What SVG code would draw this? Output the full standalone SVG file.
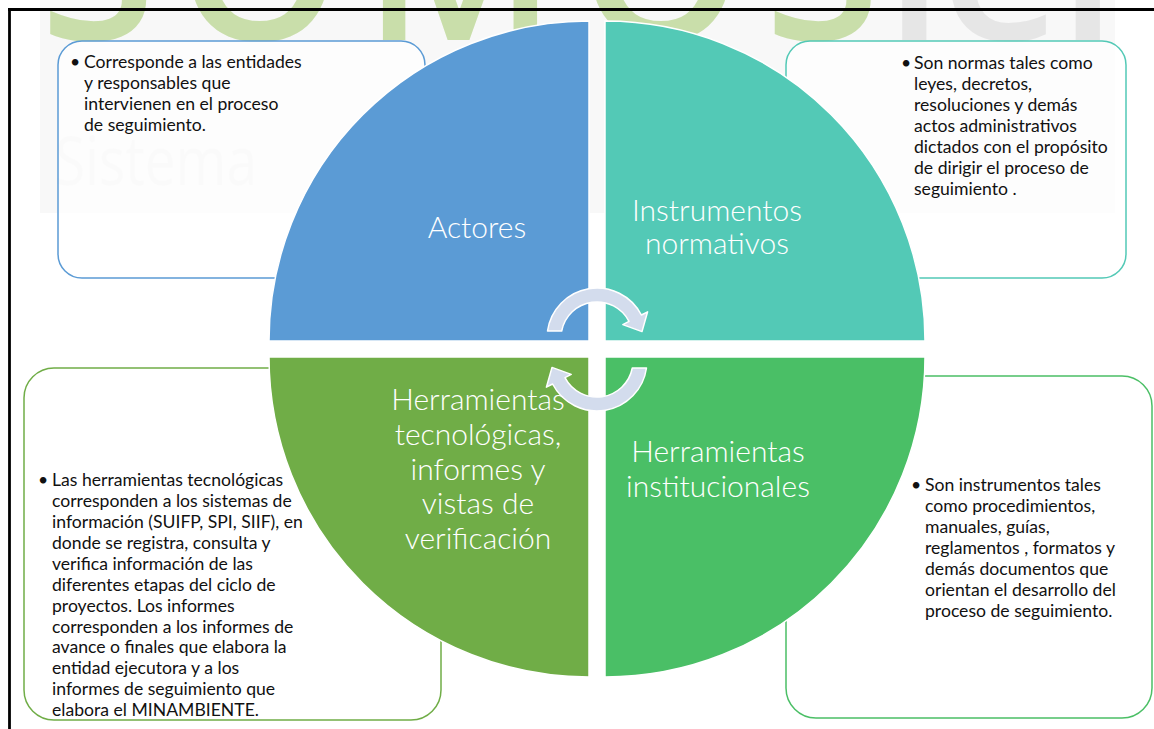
<svg xmlns="http://www.w3.org/2000/svg" width="1154" height="729" viewBox="0 0 1154 729">
  <style>
    .box { fill: #ffffff; fill-opacity: 0.65; stroke-width: 1.5; }
    .btxt { font-family: Lato, "Liberation Sans", sans-serif; font-size: 17.6px; fill: #111111; }
    .lbl { font-family: Lato, "Liberation Sans", sans-serif; font-weight: 300; font-size: 30px; fill: #ffffff; text-anchor: middle; }
    .quad { stroke: #ffffff; stroke-width: 1.5; }
    .arrow { fill: #D3DCED; stroke: #ffffff; stroke-width: 1.5; stroke-linejoin: round; }
  </style>
  <rect x="0" y="0" width="1154" height="729" fill="#ffffff"/>
  <g id="watermark">
    <rect x="40" y="0" width="1075" height="213" fill="#F8F8F8"/>
    <text x="40" y="40" font-family="'Open Sans', sans-serif" font-weight="600" font-size="210" fill="#C9DEAA" textLength="840" lengthAdjust="spacing">SOMOS</text>
    <text x="885" y="40" font-family="'Open Sans', sans-serif" font-weight="600" font-size="210" fill="#E6E6E6" textLength="232" lengthAdjust="spacing">iei</text>
    <text x="55" y="185" font-family="'Open Sans', sans-serif" font-size="67" fill="#F1F1F1" textLength="202" lengthAdjust="spacingAndGlyphs">Sistema</text>
  </g>
  <g id="frame" stroke="#000000" stroke-width="2.8" fill="none">
    <line x1="8" y1="9.5" x2="1154" y2="9.5"/>
    <line x1="9.5" y1="8" x2="9.5" y2="729"/>
  </g>
  <g id="box-actores">
    <rect class="box" x="58" y="41" width="367" height="237" rx="24" stroke="#5B9BD5"/>
    <text class="btxt"><tspan x="70" y="68">•</tspan><tspan x="84" y="68">Corresponde a las entidades</tspan><tspan x="84" y="89">y responsables que</tspan><tspan x="84" y="110">intervienen en el proceso</tspan><tspan x="84" y="131">de seguimiento.</tspan></text>
  </g>
  <g id="box-instrumentos">
    <rect class="box" x="786" y="41" width="340" height="237" rx="24" stroke="#53C9B6"/>
    <text class="btxt"><tspan x="901" y="69">•</tspan><tspan x="914" y="69">Son normas tales como</tspan><tspan x="914" y="90">leyes, decretos,</tspan><tspan x="914" y="111">resoluciones y demás</tspan><tspan x="914" y="132">actos administrativos</tspan><tspan x="914" y="153">dictados con el propósito</tspan><tspan x="914" y="174">de dirigir el proceso de</tspan><tspan x="914" y="195">seguimiento .</tspan></text>
  </g>
  <g id="box-tecnologicas">
    <rect class="box" x="24" y="368" width="417" height="352" rx="30" stroke="#70AD47"/>
    <text class="btxt"><tspan x="38" y="486">•</tspan><tspan x="52" y="486">Las herramientas tecnológicas</tspan><tspan x="52" y="507">corresponden a los sistemas de</tspan><tspan x="52" y="528">información (SUIFP, SPI, SIIF), en</tspan><tspan x="52" y="549">donde se registra, consulta y</tspan><tspan x="52" y="570">verifica información de las</tspan><tspan x="52" y="591">diferentes etapas del ciclo de</tspan><tspan x="52" y="612">proyectos. Los informes</tspan><tspan x="52" y="633">corresponden a los informes de</tspan><tspan x="52" y="653">avance o finales que elabora la</tspan><tspan x="52" y="674">entidad ejecutora y a los</tspan><tspan x="52" y="695">informes de seguimiento que</tspan><tspan x="52" y="716">elabora el MINAMBIENTE.</tspan></text>
  </g>
  <g id="box-institucionales">
    <rect class="box" x="786" y="376" width="366" height="342" rx="30" stroke="#4BBF66"/>
    <text class="btxt"><tspan x="911" y="491">•</tspan><tspan x="925" y="491">Son instrumentos tales</tspan><tspan x="925" y="512">como procedimientos,</tspan><tspan x="925" y="533">manuales, guías,</tspan><tspan x="925" y="554">reglamentos , formatos y</tspan><tspan x="925" y="575">demás documentos que</tspan><tspan x="925" y="596">orientan el desarrollo del</tspan><tspan x="925" y="617">proceso de seguimiento.</tspan></text>
  </g>
  <g id="q-actores">
    <path class="quad" d="M589,341 L269,341 A320,320 0 0 1 589,21 Z" fill="#5B9BD5"/>
  </g>
  <g id="q-instrumentos">
    <path class="quad" d="M605,341 L605,21 A320,320 0 0 1 925,341 Z" fill="#53C9B6"/>
  </g>
  <g id="q-tecnologicas">
    <path class="quad" d="M589,357 L589,677 A320,320 0 0 1 269,357 Z" fill="#70AD47"/>
  </g>
  <g id="q-institucionales">
    <path class="quad" d="M605,357 L925,357 A320,320 0 0 1 605,677 Z" fill="#4ABF66"/>
  </g>
  <g id="connectors">
    <path class="arrow" d="M547.5,331 A50,50 0 0 1 641.4,315 L647.6,311.8 L642,331.6 L622.8,324.6 L629,321.4 A36,36 0 0 0 561.7,331 Z"/>
    <path class="arrow" transform="rotate(180 597 349.5)" d="M547.5,331 A50,50 0 0 1 641.4,315 L647.6,311.8 L642,331.6 L622.8,324.6 L629,321.4 A36,36 0 0 0 561.7,331 Z"/>
  </g>
  <g id="labels">
    <text class="lbl" x="477" y="238">Actores</text>
    <text class="lbl"><tspan x="717" y="221">Instrumentos</tspan><tspan x="717" y="254">normativos</tspan></text>
    <text class="lbl"><tspan x="478" y="410">Herramientas</tspan><tspan x="478" y="445">tecnológicas,</tspan><tspan x="478" y="480">informes y</tspan><tspan x="478" y="514">vistas de</tspan><tspan x="478" y="549">verificación</tspan></text>
    <text class="lbl"><tspan x="718" y="462">Herramientas</tspan><tspan x="718" y="497">institucionales</tspan></text>
  </g>
</svg>
